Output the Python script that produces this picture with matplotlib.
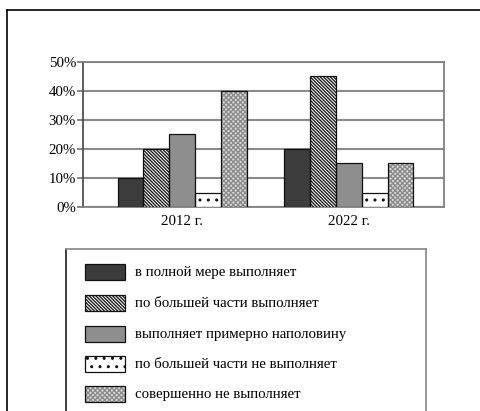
import matplotlib
matplotlib.use("Agg")
import matplotlib.pyplot as plt
from matplotlib.patches import Rectangle
from matplotlib.lines import Line2D
import numpy as np

plt.rcParams['font.family'] = ['Liberation Serif', 'DejaVu Serif']
plt.rcParams['hatch.linewidth'] = 1.0

years = ["2012 г.", "2022 г."]
series_labels = [
    "в полной мере выполняет",
    "по большей части выполняет",
    "выполняет примерно наполовину",
    "по большей части не выполняет",
    "совершенно не выполняет",
]
values = [
    [10, 20],
    [20, 45],
    [25, 15],
    [5, 5],
    [40, 15],
]
yticks = [0, 10, 20, 30, 40, 50]
ytick_labels = ["0%", "10%", "20%", "30%", "40%", "50%"]

styles = [
    dict(face="#3c3c3c", hatch=None, hcolor="#3c3c3c"),
    dict(face="white", hatch="\\" * 10, hcolor="#202020"),
    dict(face="#8e8e8e", hatch=None, hcolor="#8e8e8e"),
    dict(face="white", hatch="..", hcolor="#101010"),
    dict(face="#dcdcdc", hatch="x" * 7, hcolor="#8c8c8c"),
]

W, H = 480, 411
fig = plt.figure(figsize=(4.8, 4.11), dpi=100)

# outer frame lines (top and left)
fig.add_artist(Line2D([7 / W, 1.0], [1 - 10 / H, 1 - 10 / H], transform=fig.transFigure,
                      color="black", lw=1.2))
fig.add_artist(Line2D([7 / W, 7 / W], [0, 1 - 10 / H], transform=fig.transFigure,
                      color="black", lw=1.2))

x0, x1, y0, y1 = 83, 444, 62, 207
ax = fig.add_axes([x0 / W, 1 - y1 / H, (x1 - x0) / W, (y1 - y0) / H])

x = np.arange(len(years))
bw = 0.1545
n = len(values)
for i, (vals, st) in enumerate(zip(values, styles)):
    pos = x + (i - (n - 1) / 2) * bw
    ax.bar(pos, vals, bw, color=st["face"], edgecolor=st["hcolor"], hatch=st["hatch"],
           linewidth=0, zorder=3)
    ax.bar(pos, vals, bw, facecolor="none", edgecolor="#111111", linewidth=0.9, zorder=4)

ax.set_xlim(-0.593, 1.569)
ax.set_ylim(0, 50)
ax.set_yticks(yticks)
ax.set_yticklabels(ytick_labels, fontsize=10.7)
ax.set_xticks(x)
ax.set_xticklabels(years, fontsize=10.7)
ax.tick_params(axis='x', length=0, pad=6)
ax.tick_params(axis='y', length=4, width=1.2, color="#707070", pad=1)
ax.yaxis.grid(True, color="#8a8a8a", lw=1.5, zorder=1)
ax.set_axisbelow(True)
for s in ax.spines.values():
    s.set_color("#808080")
    s.set_linewidth(1.3)
ax.spines['left'].set_color("#505050")

# legend box
lx0, lx1, ly0, ly1 = 66, 426, 249, 430
lax = fig.add_axes([lx0 / W, 1 - ly1 / H, (lx1 - lx0) / W, (ly1 - ly0) / H])
lax.set_xlim(0, lx1 - lx0)
lax.set_ylim(ly1 - ly0, 0)
lax.set_xticks([])
lax.set_yticks([])
lax.set_facecolor("none")
lax.spines['bottom'].set_visible(False)
lax.spines['left'].set_color("#303030")
lax.spines['top'].set_color("#909090")
lax.spines['right'].set_color("#909090")
for s in lax.spines.values():
    s.set_linewidth(1.3)

row_centers = [272, 303, 334, 364, 394]
for lab, st, yc in zip(series_labels, styles, row_centers):
    yy = yc - ly0
    lax.add_patch(Rectangle((19, yy - 8), 40, 16, facecolor=st["face"], edgecolor=st["hcolor"],
                            hatch=st["hatch"], linewidth=0))
    lax.add_patch(Rectangle((19, yy - 8), 40, 16, facecolor="none", edgecolor="#111111",
                            linewidth=0.9))
    lax.text(69, yy, lab, fontsize=10.7, va="center", ha="left")

fig.savefig("out.png", dpi=100)
